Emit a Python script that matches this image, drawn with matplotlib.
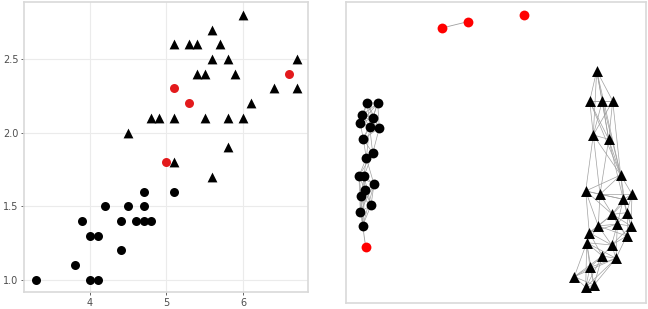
import numpy as np
import matplotlib
matplotlib.use("Agg")
import matplotlib.pyplot as plt

# left panel: FT1 / FT2 scatter
circ_x = [3.3, 3.8, 3.9, 4.0, 4.1, 4.0, 4.1, 4.2, 4.4, 4.4, 4.5, 4.6, 4.7, 4.7, 4.7, 4.8, 5.1]
circ_y = [1.0, 1.1, 1.4, 1.3, 1.3, 1.0, 1.0, 1.5, 1.4, 1.2, 1.5, 1.4, 1.4, 1.5, 1.6, 1.4, 1.6]
red_x = [5.0, 5.1, 5.3, 6.6]
red_y = [1.8, 2.3, 2.2, 2.4]
tri_x = [4.5, 4.8, 4.9, 5.1, 5.1, 5.1, 5.3, 5.4, 5.4, 5.5, 5.5, 5.6, 5.6, 5.6,
         5.7, 5.8, 5.8, 5.8, 5.9, 6.0, 6.0, 6.1, 6.4, 6.7, 6.7]
tri_y = [2.0, 2.1, 2.1, 2.1, 1.8, 2.6, 2.6, 2.6, 2.4, 2.4, 2.1, 2.7, 2.5, 1.7,
         2.6, 2.5, 2.1, 1.9, 2.4, 2.8, 2.1, 2.2, 2.3, 2.5, 2.3]
xticks = [4, 5, 6]
yticks = [1.0, 1.5, 2.0, 2.5]

# right panel: graph layout (node positions in layout units)
g_circ = [(367.3, 102.7), (377.7, 103.3), (362.3, 114.7), (372.7, 117.7), (360.3, 123.3),
          (369.7, 127.0), (379.3, 128.0), (363.3, 139.0), (372.7, 153.3), (366.3, 158.0),
          (359.0, 176.0), (364.0, 176.0), (374.0, 184.3), (365.0, 190.0), (361.3, 196.0),
          (371.0, 205.3), (360.3, 211.7), (362.7, 225.7)]
g_red = [(442.0, 28.0), (467.7, 21.7), (524.0, 15.3), (365.7, 247.3)]
g_tri = [(596.7, 70.7), (589.7, 101.0), (602.3, 101.0), (612.7, 101.0), (593.3, 135.0),
         (608.7, 139.3), (620.7, 175.0), (585.7, 191.0), (600.0, 194.3), (623.3, 199.3),
         (632.0, 194.3), (612.3, 214.3), (626.7, 212.7), (598.3, 226.0), (617.3, 224.0),
         (631.0, 226.0), (589.3, 232.7), (626.7, 236.0), (586.7, 242.7), (611.7, 245.0),
         (602.3, 256.0), (616.0, 258.3), (590.0, 267.3), (574.3, 276.7), (585.7, 287.3),
         (594.0, 285.0)]
red_edges = [(0, 1)]
red_to_circ = [(3, 17)]
# a few longer links seen in the layout
tri_extra = [(4, 7), (5, 6), (4, 8), (5, 9), (0, 3), (0, 1)]


def knn_edges(pts, k):
    p = np.array(pts)
    d = np.sqrt(((p[:, None, :] - p[None, :, :]) ** 2).sum(-1))
    edges = set()
    for i in range(len(p)):
        for j in np.argsort(d[i])[1:k + 1]:
            edges.add(tuple(sorted((i, int(j)))))
    return edges


fig = plt.figure(figsize=(6.48, 3.09), dpi=100)

ax = fig.add_axes([24 / 648, 17 / 309, 284 / 648, 290 / 309])
ax.scatter(circ_x, circ_y, s=42, c="black", marker="o", linewidths=0, zorder=3)
ax.scatter(red_x, red_y, s=42, c="#e31a1c", marker="o", linewidths=0, zorder=3)
ax.scatter(tri_x, tri_y, s=50, c="black", marker="^", linewidths=0, zorder=3)
ax.set_xlim(3.137, 6.85)
ax.set_ylim(0.918, 2.887)
ax.set_xticks(xticks)
ax.set_yticks(yticks)
ax.set_yticklabels(["%.1f" % v for v in yticks])
ax.grid(True, color="#ebebeb", linewidth=0.8)
ax.set_axisbelow(True)
for s in ax.spines.values():
    s.set_color("#d9d9d9")
    s.set_linewidth(1.2)
ax.tick_params(colors="#4d4d4d", labelsize=7, length=2.5, width=0.6, pad=1.5)
ax.set_xlabel("FT1", fontsize=8.5, color="#333333", labelpad=1)
ax.set_ylabel("FT2", fontsize=8.5, color="#333333", labelpad=1)

ax2 = fig.add_axes([345.7 / 648, 6.3 / 309, 300 / 648, 301 / 309])
ax2.set_xlim(345.7, 645.7)
ax2.set_ylim(302.7, 1.7)
ax2.set_xticks([])
ax2.set_yticks([])
for s in ax2.spines.values():
    s.set_color("#d9d9d9")
    s.set_linewidth(1.2)

ecol = "#a0a0a0"
circ_edges = knn_edges(g_circ, 6)
tri_edges = knn_edges(g_tri, 6) | set(tri_extra)
for pts, edges in [(g_circ, circ_edges), (g_tri, tri_edges)]:
    for i, j in edges:
        ax2.plot([pts[i][0], pts[j][0]], [pts[i][1], pts[j][1]], color=ecol, lw=0.5, zorder=1)
for i, j in red_edges:
    ax2.plot([g_red[i][0], g_red[j][0]], [g_red[i][1], g_red[j][1]], color=ecol, lw=0.6, zorder=1)
for i, j in red_to_circ:
    ax2.plot([g_red[i][0], g_circ[j][0]], [g_red[i][1], g_circ[j][1]], color=ecol, lw=0.6, zorder=1)

cx, cy = zip(*g_circ)
rx, ry = zip(*g_red)
tx, ty = zip(*g_tri)
ax2.scatter(cx, cy, s=50, c="black", marker="o", linewidths=0, zorder=3)
ax2.scatter(rx, ry, s=50, c="red", marker="o", linewidths=0, zorder=3)
ax2.scatter(tx, ty, s=62, c="black", marker="^", linewidths=0, zorder=3)

fig.savefig("out.png", dpi=100)
